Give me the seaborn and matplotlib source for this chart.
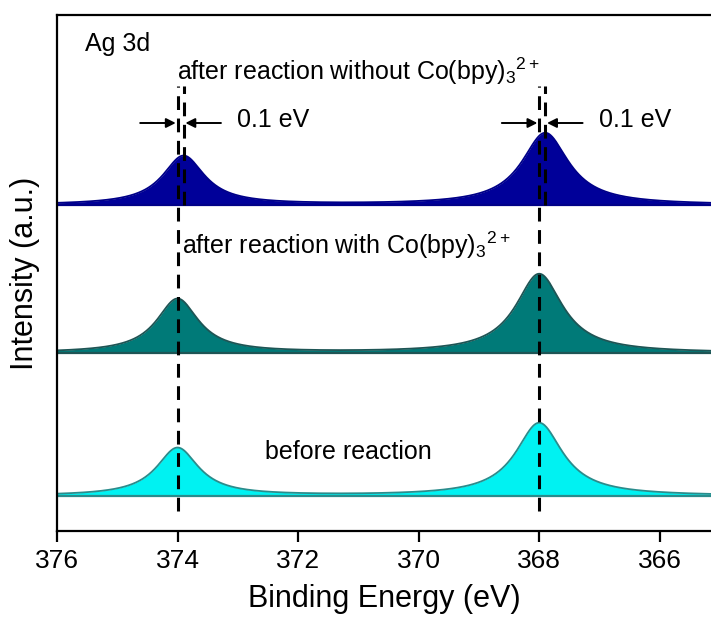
import numpy as np
import pandas as pd
import matplotlib
matplotlib.use("Agg")
import matplotlib.pyplot as plt
import seaborn as sns

# ---------------- data ----------------
series_names = ["without", "with", "before"]
peak_3d52_center = [367.9, 368.0, 368.0]     # eV
peak_3d32_center = [373.9, 374.0, 374.0]     # eV
peak_3d52_height = [72, 79, 73]              # a.u.
peak_3d32_height = [49, 54, 48]              # a.u.
peak_3d52_fwhm = [0.95, 0.95, 0.95]          # eV
peak_3d32_fwhm = [0.85, 0.85, 0.85]          # eV
baseline_offset = [326, 178, 35]             # vertical stacking offsets
ref_lines_all = [374.0, 368.0]               # dashed reference lines (full)
ref_lines_top = [373.9, 367.9]               # dashed lines for shifted peaks
x_ticks = [376, 374, 372, 370, 368, 366]
x_range = (376.0, 365.15)

fill_colors = ["#000099", "#007A78", "#00F2F2"]
edge_colors = ["#000088", "#1E5555", "#2A8C8C"]

# ---------------- build spectra ----------------
energy = np.linspace(x_range[1], x_range[0], 1500)


def lorentz(x, c, h, w):
    g = w / 2.0
    return h / (1.0 + ((x - c) / g) ** 2)


rows = []
for i, name in enumerate(series_names):
    y = (baseline_offset[i]
         + lorentz(energy, peak_3d52_center[i], peak_3d52_height[i], peak_3d52_fwhm[i])
         + lorentz(energy, peak_3d32_center[i], peak_3d32_height[i], peak_3d32_fwhm[i]))
    rows.append(pd.DataFrame({"energy": energy, "intensity": y, "series": name}))
df = pd.concat(rows, ignore_index=True)

# ---------------- style ----------------
sns.set_style("ticks", {"axes.edgecolor": "black", "text.color": "black",
                        "axes.labelcolor": "black", "xtick.color": "black",
                        "ytick.color": "black"})
plt.rcParams["font.family"] = ["Liberation Sans", "DejaVu Sans"]
plt.rcParams["mathtext.default"] = "regular"

fig = plt.figure(figsize=(7.11, 6.17), dpi=100)
ax = fig.add_axes([57 / 711, 86 / 617, 654 / 711, 516 / 617])

sns.lineplot(data=df, x="energy", y="intensity", hue="series",
             hue_order=series_names, palette=edge_colors, estimator=None,
             sort=True, legend=False, linewidth=1.3, ax=ax)
for i, name in enumerate(series_names):
    sub = df[df["series"] == name]
    ax.fill_between(sub["energy"], baseline_offset[i], sub["intensity"],
                    color=fill_colors[i], linewidth=0, zorder=1)
    ax.plot([x_range[1], x_range[0]], [baseline_offset[i]] * 2,
            color=edge_colors[i], lw=1.6, zorder=2)

# dashed reference lines
dash = (0, (4.5, 2.8))
for xv in ref_lines_all:
    ax.plot([xv, xv], [20, 445], color="black", lw=2.2, ls=dash, zorder=5)
for xv in ref_lines_top:
    ax.plot([xv, xv], [baseline_offset[0], 445], color="black", lw=2.2, ls=dash,
            zorder=5)

# arrows marking the 0.1 eV shift
arrow_kw = dict(arrowstyle="-|>", color="black", lw=1.4, mutation_scale=14,
                shrinkA=0, shrinkB=0)
for xa, xb in zip(ref_lines_all, ref_lines_top):
    ax.annotate("", xy=(xa + 0.03, 408), xytext=(xa + 0.62, 408), arrowprops=arrow_kw)
    ax.annotate("", xy=(xb - 0.03, 408), xytext=(xb - 0.62, 408), arrowprops=arrow_kw)
    ax.text(xa - 0.99, 411, "0.1 eV", fontsize=18, ha="left", va="center",
            color="black")

txt_kw = dict(fontsize=18, ha="left", va="baseline", color="black")
ax.text(375.54, 480, "Ag 3d", **txt_kw)
ax.text(374.01, 451, r"after reaction without Co(bpy)$_3$$^{2+}$", **txt_kw)
ax.text(373.93, 277, r"after reaction with Co(bpy)$_3$$^{2+}$", **txt_kw)
ax.text(372.55, 72, "before reaction", **txt_kw)

ax.set_xlim(*x_range)
ax.set_ylim(0, 516)
ax.set_xticks(x_ticks)
ax.set_xticklabels([str(t) for t in x_ticks])
ax.set_yticks([])
ax.tick_params(axis="x", direction="out", length=8, width=1.6, labelsize=19,
               pad=5, colors="black")
ax.set_xlabel("Binding Energy (eV)", fontsize=22, labelpad=8, color="black")
ax.set_ylabel("Intensity (a.u.)", fontsize=22, labelpad=12, color="black")
for side in ["left", "bottom", "top"]:
    ax.spines[side].set_linewidth(1.6)
    ax.spines[side].set_color("black")
    ax.spines[side].set_visible(True)
ax.spines["right"].set_visible(False)

fig.savefig("out.png", dpi=100)
